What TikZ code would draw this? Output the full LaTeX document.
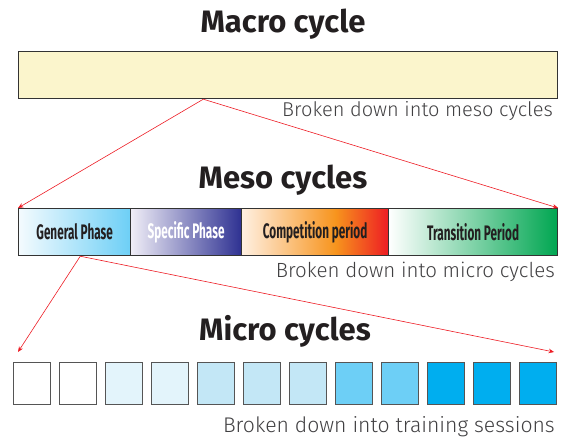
\documentclass[tikz,border=0pt]{standalone}
\usepackage{fontspec}
\usepackage{graphicx}
\setmainfont{Fira Sans}
\newfontfamily\lightfont{Fira Sans Light}
\usetikzlibrary{arrows.meta,calc}
\definecolor{macrofill}{HTML}{FBF5CC}
\definecolor{titlecol}{HTML}{231F20}
\definecolor{notecol}{HTML}{414042}
\definecolor{boxcol}{HTML}{333333}
\definecolor{sqline}{HTML}{555555}
\definecolor{linkred}{HTML}{ED1C24}
\definecolor{genL}{HTML}{F4FBFE}
\definecolor{genR}{HTML}{6DCFF6}
\definecolor{specL}{HTML}{F0EEF7}
\definecolor{specR}{HTML}{2E3192}
\definecolor{compA}{HTML}{FFF0E2}
\definecolor{compB}{HTML}{F7941D}
\definecolor{compC}{HTML}{ED1C24}
\definecolor{transL}{HTML}{FFFFFF}
\definecolor{transR}{HTML}{00A651}
\definecolor{sqA}{HTML}{FFFFFF}
\definecolor{sqB}{HTML}{E3F4FB}
\definecolor{sqC}{HTML}{C3E7F6}
\definecolor{sqD}{HTML}{6DCFF6}
\definecolor{sqE}{HTML}{00AEEF}
\pgfdeclarehorizontalshading{compshade}{100bp}{color(0bp)=(compA); color(25bp)=(compA); color(57bp)=(compB); color(75bp)=(compC); color(100bp)=(compC)}
\newcommand\condtext[1]{\scalebox{0.56}[1]{#1}}
\tikzset{
  title/.style={font=\bfseries\fontsize{31}{34}\selectfont, text=titlecol, anchor=base, inner sep=0},
  note/.style={font=\lightfont\fontsize{#1}{24}\selectfont, text=notecol, anchor=base east, inner sep=0},
  note/.default=20.5,
  boxline/.style={draw=boxcol, line width=1.2pt},
  phase/.style={boxline, minimum height=47pt, anchor=north west, inner sep=0, font=\bfseries\fontsize{21}{24}\selectfont, text=titlecol},
  sq/.style={draw=sqline, line width=1.1pt, minimum width=37pt, minimum height=42pt, anchor=north west, inner sep=0},
  link/.style={-{Stealth[length=5.5pt,width=4.5pt]}, draw=linkred, line width=0.6pt}
}
\begin{document}
\begin{tikzpicture}[x=1pt,y=-1pt]
\useasboundingbox (0,0) rectangle (561,438);
% macro
\node[title] (tmacro) at (283,33) {Macro cycle};
\node[boxline, fill=macrofill, minimum width=539pt, minimum height=47pt, anchor=north west, inner sep=0] (macro) at (18,51) {};
\node[note=20] (nmacro) at (553,117) {Broken down into meso cycles};
% meso
\node[title] (tmeso) at (283,189) {Meso cycles};
\node[phase, minimum width=112pt, left color=genL, right color=genR] (gen) at (18,208) {\condtext{General Phase}};
\node[phase, minimum width=111pt, left color=specL, right color=specR, text=white] (spec) at (130,208) {\condtext{Specific Phase}};
\node[phase, minimum width=147pt, shading=compshade] (comp) at (241,208) {\condtext{Competition period}};
\node[phase, minimum width=169pt, left color=transL, right color=transR] (trans) at (388,208) {\condtext{Transition Period}};
\node[note] (nmeso) at (555,277) {Broken down into micro cycles};
% micro
\node[title] (tmicro) at (285,340) {Micro cycles};
\foreach \i/\c in {1/sqA,2/sqA,3/sqB,4/sqB,5/sqC,6/sqC,7/sqC,8/sqD,9/sqD,10/sqE,11/sqE,12/sqE}{
  \node[sq, fill=\c] (s\i) at ({13+46*(\i-1)},362) {};
}
\node[note=21.2] (nmicro) at (555,432) {Broken down into training sessions};
% connectors
\coordinate (mo) at ($(macro.south west)!0.343!(macro.south east)$);
\draw[link] (mo) -- (gen.north west);
\draw[link] (mo) -- (trans.north east);
\coordinate (go) at ($(gen.south west)!0.55!(gen.south east)$);
\coordinate (ta) at ($(s1.north west)+(5,-10)$);
\coordinate (tb) at ($(s12.north east)+(-3,-10)$);
\draw[link] (go) -- (ta);
\draw[link] (go) -- (tb);
\end{tikzpicture}
\end{document}
